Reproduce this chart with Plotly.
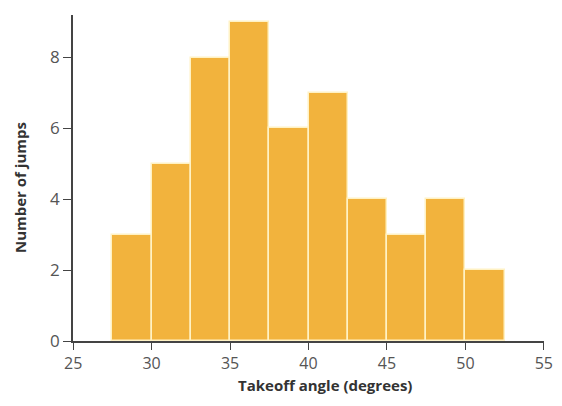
import plotly.graph_objects as go

bin_starts = [27.5, 30, 32.5, 35, 37.5, 40, 42.5, 45, 47.5, 50]
counts = [3, 5, 8, 9, 6, 7, 4, 3, 4, 2]
bin_width = 2.5
x_ticks = [25, 30, 35, 40, 45, 50, 55]
y_ticks = [0, 2, 4, 6, 8]
x_title = "Takeoff angle (degrees)"
y_title = "Number of jumps"

centers = [s + bin_width / 2 for s in bin_starts]

fig = go.Figure(go.Bar(
    x=centers, y=counts, width=[bin_width] * len(counts),
    marker=dict(color="#F2B33D", line=dict(color="#FFF2C4", width=1.5)),
    showlegend=False,
))

font_family = "Open Sans, Lato, sans-serif"
fig.update_layout(
    width=546, height=390,
    margin=dict(l=65, r=10, t=7, b=57, autoexpand=False),
    paper_bgcolor="white", plot_bgcolor="white",
    font=dict(family=font_family, color="#555555", size=16),
    bargap=0,
    xaxis=dict(
        range=[24.99, 55.01], tickvals=x_ticks, ticks="outside", ticklen=7, tickcolor="#444",
        showline=True, linecolor="#444", linewidth=1.5, showgrid=False, zeroline=False,
        tickfont=dict(size=16, color="#555"), automargin=False,
    ),
    yaxis=dict(
        range=[0, 9.2], tickvals=y_ticks, ticks="outside", ticklen=8, tickcolor="#444",
        showline=True, linecolor="#444", linewidth=1.5, showgrid=False, zeroline=False,
        tickfont=dict(size=17, color="#555"), automargin=False,
    ),
    annotations=[
        dict(text="<b>" + x_title + "</b>", xref="paper", yref="paper", x=0.535, y=-0.172,
             xanchor="center", yanchor="bottom", showarrow=False,
             font=dict(size=15, color="#333")),
        dict(text="<b>" + y_title + "</b>", xref="paper", yref="paper", x=-0.112, y=0.47,
             xanchor="center", yanchor="middle", showarrow=False, textangle=-90,
             font=dict(size=15, color="#333")),
    ],
)

fig.write_html("out.html")
